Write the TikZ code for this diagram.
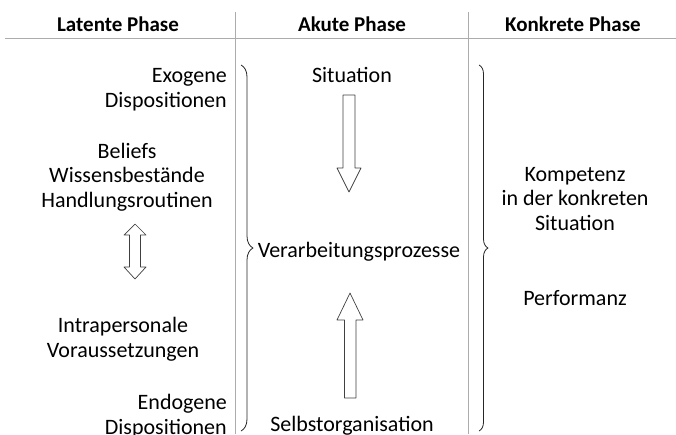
\documentclass[tikz,border=0pt]{standalone}
\usepackage{fontspec}
\setmainfont{Carlito}
\usepackage{tikz}
\usetikzlibrary{decorations.pathreplacing}

\begin{document}
\begin{tikzpicture}[x=1pt,y=-1pt,line join=round,
  txt/.style={inner sep=0pt,anchor=base,font=\fontsize{22}{24.5}\selectfont},
  head/.style={inner sep=0pt,anchor=base,font=\fontsize{21}{24}\selectfont\bfseries},
  rule/.style={gray!65,line width=0.8pt},
  blockarrow/.style={draw=black!75,line width=0.7pt,fill=white},
  curly/.style={draw=black!85,line width=0.8pt,decorate,decoration={brace,amplitude=#1}}]
\useasboundingbox (0,0) rectangle (676,434);
% table rules
\draw[rule] (5,38) -- (676,38);
\draw[rule] (235,12) -- (235,434);
\draw[rule] (468,12) -- (468,434);
% headers
\node[head] (hlat) at (118,31) {Latente Phase};
\node[head] (hak) at (352,31) {Akute Phase};
\node[head] (hkon) at (573,31) {Konkrete Phase};
% latent phase (base = last line)
\node[txt,anchor=base east,align=right] (exo) at (227,107) {Exogene\\Dispositionen};
\node[txt,align=center] (bel) at (127,207) {Beliefs\\Wissensbestände\\Handlungsroutinen};
\node[txt,align=center] (intra) at (123,357) {Intrapersonale\\Voraussetzungen};
\node[txt,anchor=base east,align=right] (endo) at (227,434) {Endogene\\Dispositionen};
\draw[blockarrow] (129.5,235) -- (124,235) -- (135,224) -- (146,235) -- (140.5,235)
  -- (140.5,267) -- (146,267) -- (135,279) -- (124,267) -- (129.5,267) -- cycle;
% acute phase
\node[txt] (sit) at (352,82) {Situation};
\node[txt] (verarb) at (359,257) {Verarbeitungsprozesse};
\node[txt] (selbst) at (352,431) {Selbstorganisation};
\draw[blockarrow] (343,95) -- (355,95) -- (355,168) -- (361,168) -- (349,192)
  -- (337,168) -- (343,168) -- cycle;
\draw[blockarrow] (344.5,398) -- (356,398) -- (356,320) -- (363,320) -- (350,293)
  -- (337,320) -- (344.5,320) -- cycle;
\draw[curly=12pt] (241,65) -- (241,431);
% concrete phase
\node[txt,align=center] (komp) at (575,230) {Kompetenz\\in der konkreten\\Situation};
\node[txt] (perf) at (575,305) {Performanz};
\draw[curly=9pt] (479,65) -- (479,431);
\end{tikzpicture}
\end{document}
